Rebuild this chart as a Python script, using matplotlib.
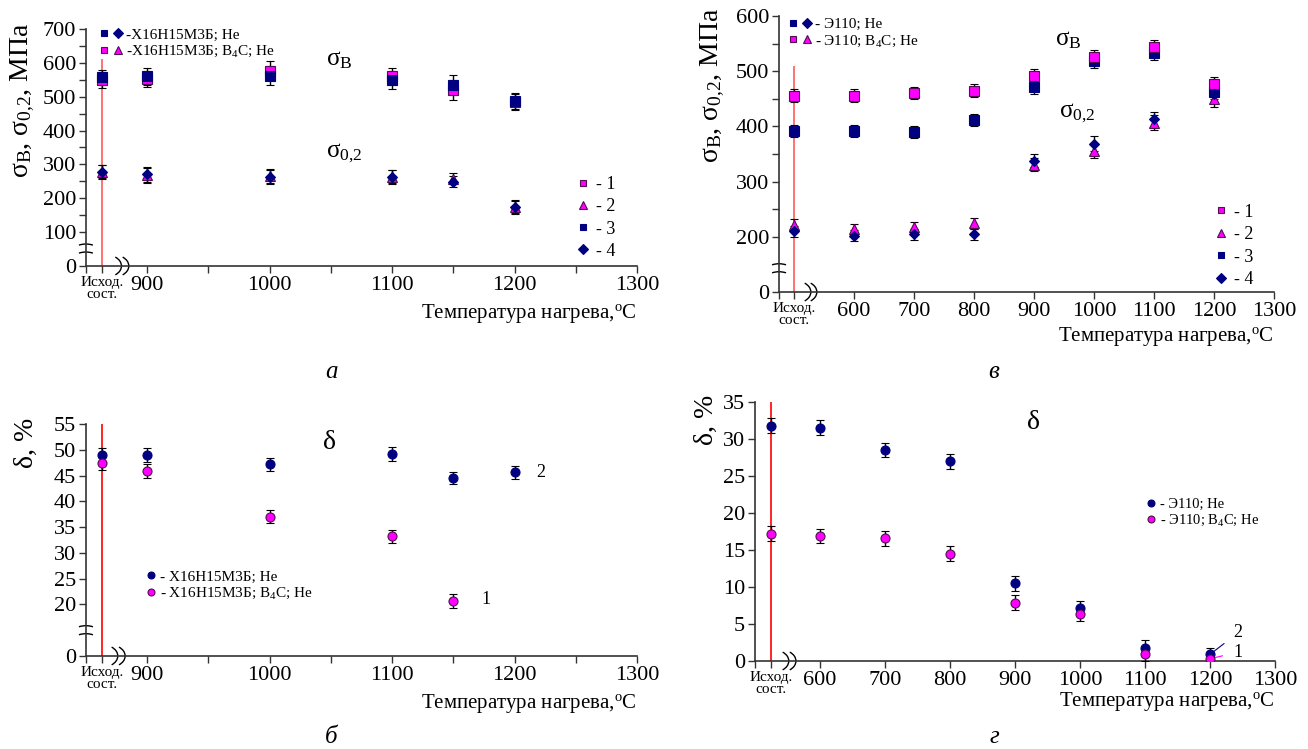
import matplotlib
matplotlib.use('Agg')
import matplotlib.pyplot as plt
import matplotlib.transforms as mtransforms
from matplotlib.patches import Arc
from matplotlib.lines import Line2D
from matplotlib.legend_handler import HandlerTuple

plt.rcParams['font.family'] = 'serif'
plt.rcParams['font.serif'] = ['Liberation Serif', 'DejaVu Serif']
plt.rcParams['mathtext.fontset'] = 'custom'
plt.rcParams['mathtext.rm'] = 'Liberation Serif'
plt.rcParams['mathtext.it'] = 'Liberation Serif:italic'

NAVY = '#000080'
MAG = '#ff00ff'
MEDGE = '#50104f'
AXC = '#333333'

# ---- data (initial state is drawn at a separate position left of the break)
# panel a: Х16Н15М3Б, strength, MPa
t_a = [863, 900, 1000, 1100, 1150, 1200]
sb_b4c_a = [550, 552, 577, 560, 520, 484]
sb_he_a = [557, 560, 562, 550, 535, 488]
sb_err_a = [23, 24, 28, 26, 30, 23]
s02_b4c_a = [277, 268, 266, 264, 258, 175]
s02_he_a = [279, 271, 262, 262, 249, 173]
s02_err_a = [20, 22, 20, 20, 17, 19]

# panel в: Э110, strength, MPa
t_v = [500, 600, 700, 800, 900, 1000, 1100, 1200]
sb_b4c_v = [456, 456, 460, 465, 491, 526, 543, 477]
sb_he_v = [392, 392, 390, 411, 471, 518, 533, 462]
sb_err_v = [11, 11, 11, 11, 13, 12, 13, 12]
s02_b4c_v = [222, 214, 217, 225, 331, 356, 407, 449]
s02_he_v = [210, 202, 205, 205, 338, 369, 413, 458]
s02_err_v = [10, 10, 10, 10, 12, 14, 14, 13]

# panel б: Х16Н15М3Б, elongation, %
t_b = [863, 900, 1000, 1100, 1150, 1200]
d_he_b = [49.0, 49.0, 47.2, 49.2, 44.5, 45.6]
d_he_err_b = [1.3, 1.4, 1.3, 1.3, 1.2, 1.3]
t_b4c_b = [863, 900, 1000, 1100, 1150]
d_b4c_b = [47.5, 45.9, 37.0, 33.2, 20.7]
d_b4c_err_b = [1.5, 1.4, 1.3, 1.3, 1.4]

# panel г: Э110, elongation, %
t_g = [525, 600, 700, 800, 900, 1000, 1100, 1200]
d_he_g = [31.8, 31.5, 28.5, 27.0, 10.5, 7.2, 1.8, 0.9]
d_b4c_g = [17.2, 16.9, 16.6, 14.5, 7.9, 6.3, 1.0, 0.3]
d_err_g = [1.0, 1.0, 1.0, 1.0, 1.0, 0.9, 1.0, 0.9]

fig = plt.figure(figsize=(13.08, 7.49), dpi=100)
ax_a = fig.add_axes([0.0657, 0.6449, 0.4213, 0.3164])
ax_v = fig.add_axes([0.5956, 0.6101, 0.3784, 0.3685])
ax_b = fig.add_axes([0.0657, 0.1242, 0.4213, 0.3097])
ax_g = fig.add_axes([0.5772, 0.1175, 0.3976, 0.3458])

XLAB = 'Температура нагрева,$^{\\mathrm{o}}$C'
SIG_LAB = 'σ$_{\\mathrm{В}}$, σ$_{0{,}2}$, МПа'


def style(ax):
    for s in ['top', 'right']:
        ax.spines[s].set_visible(False)
    for s in ['left', 'bottom']:
        ax.spines[s].set_color(AXC)
        ax.spines[s].set_linewidth(1.2)
    ax.tick_params(direction='out', length=5, width=1, color=AXC, labelsize=16, pad=2)


def set_xticks(ax, ticks, labels):
    ax.set_xticks(ticks)
    ax.set_xticklabels(labels)
    for lab in ax.get_xticklabels():
        if 'Исход' in lab.get_text():
            lab.set_fontsize(11)
            lab.set_linespacing(0.95)


def at(ax, x, y):
    return fig.dpi_scale_trans + mtransforms.ScaledTranslation(x, y, ax.transData)


def xbreak(ax, xs, y0):
    for x in xs:
        ax.add_patch(Arc((-0.15, 0), 0.3, 0.22, theta1=-45, theta2=45,
                         transform=at(ax, x, y0), color='black', lw=1.0, clip_on=False))


def ybreak(ax, x0, y):
    for cy in (-0.02, -0.10):
        ax.add_patch(Arc((0, cy), 0.24, 0.12, theta1=35, theta2=145,
                         transform=at(ax, x0, y), color='black', lw=1.0, clip_on=False))


def ebar(ax, x, y, err, marker, color, ms, edge=None):
    ax.errorbar(x, y, yerr=err, fmt=marker, ms=ms, mfc=color,
                mec=edge if edge else color, mew=0.8, ecolor='black',
                elinewidth=1, capsize=3, capthick=1, zorder=3)


def proxy(marker, color, ms, edge=None):
    return Line2D([], [], ls='none', marker=marker, ms=ms, mfc=color,
                  mec=edge if edge else color, mew=0.8)


# ================= panel а =================
ax = ax_a
style(ax)
ax.set_xlim(850, 1300)
ax.set_ylim(0, 700)
ax.vlines(t_a[0], 0, 612, color='#ff5a5a', lw=1.2, zorder=1)
ebar(ax, t_a, sb_b4c_a, sb_err_a, 's', MAG, 7, MEDGE)
ebar(ax, t_a, sb_he_a, sb_err_a, 's', NAVY, 7)
ebar(ax, t_a, s02_b4c_a, s02_err_a, '^', MAG, 7, MEDGE)
ebar(ax, t_a, s02_he_a, s02_err_a, 'D', NAVY, 5.5)
set_xticks(ax, [850, 863, 900, 950, 1000, 1050, 1100, 1150, 1200, 1250, 1300],
           ['', 'Исход.\nсост.', '900', '', '1000', '', '1100', '', '1200', '', '1300'])
ax.set_yticks([0, 100, 150, 200, 250, 300, 350, 400, 450, 500, 550, 600, 650, 700])
ax.set_yticklabels(['0', '100', '', '200', '', '300', '', '400', '', '500', '', '600', '', '700'])
xbreak(ax, [879, 885], 0)
ybreak(ax, 850, 53)
ax.set_ylabel(SIG_LAB, fontsize=20)
ax.yaxis.set_label_coords(-0.088, 0.70)
ax.text(1.0, -0.2, XLAB, transform=ax.transAxes, ha='right', va='center', fontsize=15)
ax.text(1057, 608, 'σ$_{\\mathrm{В}}$', fontsize=18, ha='center', va='center')
ax.text(1061, 334, 'σ$_{0{,}2}$', fontsize=18, ha='center', va='center')
leg = ax.legend([(proxy('s', NAVY, 5), proxy('D', NAVY, 5)),
                 (proxy('s', MAG, 5, MEDGE), proxy('^', MAG, 6, MEDGE))],
                ['-Х16Н15М3Б; Не', '-Х16Н15М3Б; В$_4$С; Не'],
                handler_map={tuple: HandlerTuple(ndivide=None, pad=0.1)},
                loc='upper left', bbox_to_anchor=(0.022, 1.005), frameon=False,
                fontsize=11, handlelength=1.7, handletextpad=0.15,
                labelspacing=0.18, borderpad=0, borderaxespad=0)
ax.add_artist(leg)
ax.legend([proxy('s', MAG, 5, MEDGE), proxy('^', MAG, 6, MEDGE),
           proxy('s', NAVY, 5), proxy('D', NAVY, 5)],
          ['- 1', '- 2', '- 3', '- 4'], loc='upper left',
          bbox_to_anchor=(0.889, 0.378), frameon=False, fontsize=13,
          handlelength=0.8, handletextpad=0.3, labelspacing=0.28,
          borderpad=0, borderaxespad=0)

# ================= panel в =================
ax = ax_v
style(ax)
ax.set_xlim(475, 1300)
ax.set_ylim(100, 600)
ax.vlines(t_v[0], 100, 509, color='#ff5a5a', lw=1.2, zorder=1)
ebar(ax, t_v, sb_he_v, sb_err_v, 's', NAVY, 6.5)
ebar(ax, t_v, sb_b4c_v, sb_err_v, 's', MAG, 6.5, MEDGE)
ebar(ax, t_v, s02_b4c_v, s02_err_v, '^', MAG, 6.5, MEDGE)
ebar(ax, t_v, s02_he_v, s02_err_v, 'D', NAVY, 5.5)
set_xticks(ax, [475, 500, 600, 700, 800, 900, 1000, 1100, 1200, 1300],
           ['', 'Исход.\nсост.', '600', '700', '800', '900', '1000', '1100', '1200', '1300'])
ax.set_yticks([100, 200, 250, 300, 350, 400, 450, 500, 550, 600])
ax.set_yticklabels(['0', '200', '', '300', '', '400', '', '500', '', '600'])
xbreak(ax, [528, 538], 100)
ybreak(ax, 475, 144)
ax.set_ylabel(SIG_LAB, fontsize=20)
ax.yaxis.set_label_coords(-0.105, 0.75)
ax.text(1.0, -0.16, XLAB, transform=ax.transAxes, ha='right', va='center', fontsize=15)
ax.text(957, 556, 'σ$_{\\mathrm{В}}$', fontsize=18, ha='center', va='center')
ax.text(972, 424, 'σ$_{0{,}2}$', fontsize=18, ha='center', va='center')
leg = ax.legend([(proxy('s', NAVY, 5), proxy('D', NAVY, 5)),
                 (proxy('s', MAG, 5, MEDGE), proxy('^', MAG, 6, MEDGE))],
                ['- Э110; Не', '- Э110; В$_4$С; Не'],
                handler_map={tuple: HandlerTuple(ndivide=None, pad=0.1)},
                loc='upper left', bbox_to_anchor=(0.016, 0.995), frameon=False,
                fontsize=11, handlelength=1.7, handletextpad=0.15,
                labelspacing=0.15, borderpad=0, borderaxespad=0)
ax.add_artist(leg)
ax.legend([proxy('s', MAG, 5, MEDGE), proxy('^', MAG, 6, MEDGE),
           proxy('s', NAVY, 5), proxy('D', NAVY, 5)],
          ['- 1', '- 2', '- 3', '- 4'], loc='upper left',
          bbox_to_anchor=(0.879, 0.32), frameon=False, fontsize=13,
          handlelength=0.8, handletextpad=0.3, labelspacing=0.3,
          borderpad=0, borderaxespad=0)

# ================= panel б =================
ax = ax_b
style(ax)
ax.set_xlim(850, 1300)
ax.set_ylim(10, 55)
ax.vlines(t_b[0], 10, 55.4, color='red', lw=1.2, zorder=1)
ebar(ax, t_b, d_he_b, d_he_err_b, 'o', NAVY, 6.5)
ebar(ax, t_b4c_b, d_b4c_b, d_b4c_err_b, 'o', MAG, 6.5, MEDGE)
set_xticks(ax, [850, 863, 900, 950, 1000, 1050, 1100, 1150, 1200, 1250, 1300],
           ['', 'Исход.\nсост.', '900', '', '1000', '', '1100', '', '1200', '', '1300'])
ax.set_yticks([10, 20, 25, 30, 35, 40, 45, 50, 55])
ax.set_yticklabels(['0', '20', '25', '30', '35', '40', '45', '50', '55'])
xbreak(ax, [876, 882], 10)
ybreak(ax, 850, 15.1)
ax.set_ylabel('δ, %', fontsize=20)
ax.yaxis.set_label_coords(-0.085, 0.92)
ax.text(1.0, -0.207, XLAB, transform=ax.transAxes, ha='right', va='center', fontsize=15)
ax.text(1049, 51.5, 'δ', fontsize=20, ha='center', va='center')
ax.text(1221, 45.5, '2', fontsize=13, ha='center', va='center')
ax.text(1177, 20.9, '1', fontsize=13, ha='center', va='center')
ax.legend([proxy('o', NAVY, 5), proxy('o', MAG, 5, MEDGE)],
          ['- Х16Н15М3Б; Не', '- Х16Н15М3Б; В$_4$С; Не'], loc='upper left',
          bbox_to_anchor=(0.109, 0.37), frameon=False, fontsize=11,
          handlelength=0.6, handletextpad=0.3, labelspacing=0.15,
          borderpad=0, borderaxespad=0)

# ================= panel г =================
ax = ax_g
style(ax)
ax.set_xlim(500, 1300)
ax.set_ylim(0, 35)
ax.vlines(t_g[0], 0, 35, color='red', lw=1.2, zorder=1)
ebar(ax, t_g, d_he_g, d_err_g, 'o', NAVY, 6.5)
ebar(ax, t_g, d_b4c_g, d_err_g, 'o', MAG, 6.5, MEDGE)
set_xticks(ax, [500, 525, 600, 700, 800, 900, 1000, 1100, 1200, 1300],
           ['', 'Исход.\nсост.', '600', '700', '800', '900', '1000', '1100', '1200', '1300'])
ax.set_yticks([0, 5, 10, 15, 20, 25, 30, 35])
xbreak(ax, [552, 563], 0)
ax.set_ylabel('δ, %', fontsize=20)
ax.yaxis.set_label_coords(-0.07, 0.93)
ax.text(1.0, -0.158, XLAB, transform=ax.transAxes, ha='right', va='center', fontsize=15)
ax.text(929, 32.2, 'δ', fontsize=20, ha='center', va='center')
ax.annotate('2', xy=(t_g[-1], d_he_g[-1]), xytext=(1243, 3.8), fontsize=13,
            ha='center', va='center',
            arrowprops=dict(arrowstyle='-', color=NAVY, lw=0.8, shrinkA=6, shrinkB=0))
ax.annotate('1', xy=(t_g[-1], d_b4c_g[-1]), xytext=(1243, 1.2), fontsize=13,
            ha='center', va='center',
            arrowprops=dict(arrowstyle='-', color=MAG, lw=0.8, shrinkA=6, shrinkB=0))
ax.legend([proxy('o', NAVY, 5), proxy('o', MAG, 5, MEDGE)],
          ['- Э110; Не', '- Э110; В$_4$С; Не'], loc='upper left',
          bbox_to_anchor=(0.754, 0.63), frameon=False, fontsize=10.5,
          handlelength=0.6, handletextpad=0.3, labelspacing=0.15,
          borderpad=0, borderaxespad=0)

# panel letters
fig.text(331 / 1308, 1 - 372 / 749, 'а', fontsize=18, style='italic', ha='center', va='center')
fig.text(994 / 1308, 1 - 372 / 749, 'в', fontsize=18, style='italic', ha='center', va='center')
fig.text(331 / 1308, 1 - 737 / 749, 'б', fontsize=18, style='italic', ha='center', va='center')
fig.text(994 / 1308, 1 - 737 / 749, 'г', fontsize=18, style='italic', ha='center', va='center')

fig.savefig('out.png', dpi=100, facecolor='white')
